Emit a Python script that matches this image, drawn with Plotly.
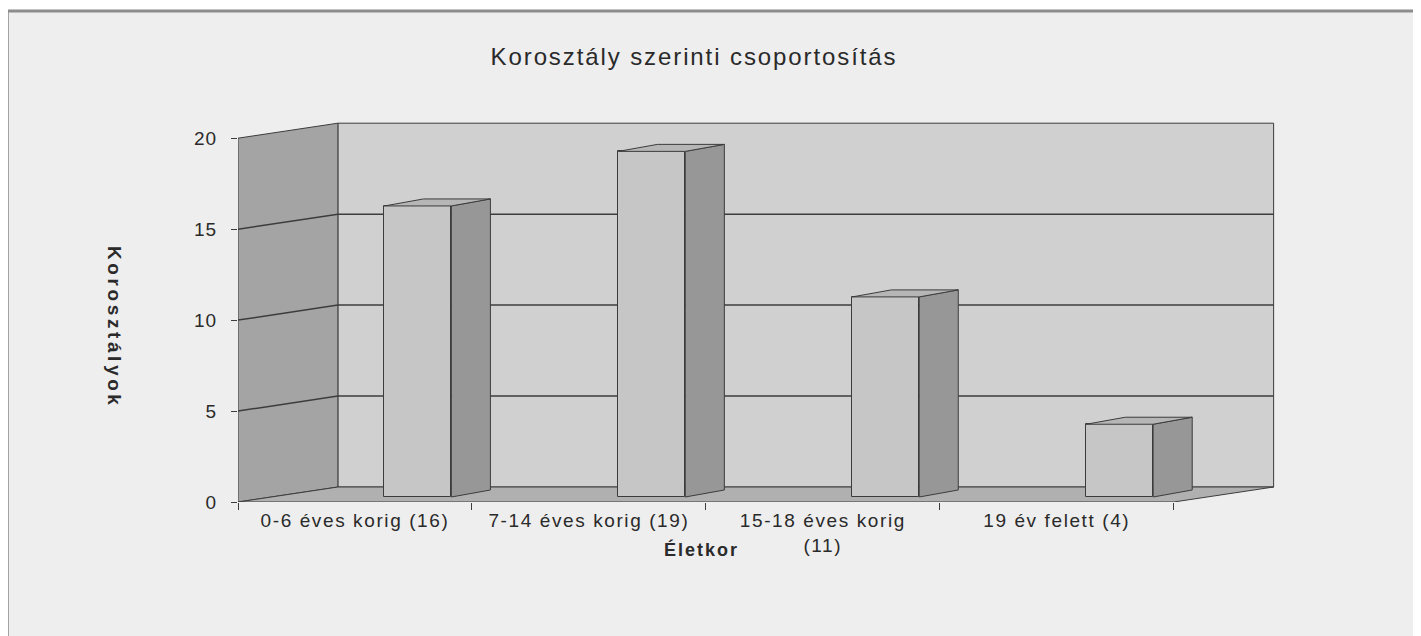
import plotly.graph_objects as go

# data
categories = ["0-6 éves korig (16)", "7-14 éves korig (19)", "15-18 éves korig<br>(11)", "19 év felett (4)"]
counts = [16, 19, 11, 4]
y_ticks = [0, 5, 10, 15, 20]

FONT = "Liberation Sans, Arial, sans-serif"
LINE = "#3c3c3c"
TEXT = "#2a2a2a"

# pseudo-3D geometry (axis units)
WALL_DX, WALL_DY = 0.427, 0.824   # depth of back wall
BAR_OFF, BAR_W, BAR_BASE = 0.269, 0.286, 0.275
BAR_DX, BAR_DY = 0.167, 0.385
Y_MAX = 20
N = len(categories)

centers = [i + 0.5 for i in range(N)]
bar_x = [c + BAR_OFF for c in centers]


def spaced(text, px):
    # the scanned chart uses a wide face; widen Arial with letter spacing
    return "<br>".join(f'<span style="letter-spacing:{px}px">{t}</span>' for t in text.split("<br>"))


fig = go.Figure()


def poly(xs, ys, fill):
    fig.add_trace(go.Scatter(
        x=xs + xs[:1], y=ys + ys[:1],
        mode="lines", fill="toself", fillcolor=fill,
        line=dict(color=LINE, width=1),
        hoverinfo="skip", showlegend=False,
    ))


# walls and floor
shapes = []
def path(pts, fill, width=1):
    d = "M " + " L ".join(f"{x},{y}" for x, y in pts) + " Z"
    shapes.append(dict(type="path", path=d, xref="x", yref="y", layer="below",
                       fillcolor=fill, line=dict(color=LINE, width=width)))

path([(WALL_DX, WALL_DY), (N + WALL_DX, WALL_DY), (N + WALL_DX, Y_MAX + WALL_DY), (WALL_DX, Y_MAX + WALL_DY)], "#d0d0d0")
path([(0, 0), (WALL_DX, WALL_DY), (WALL_DX, Y_MAX + WALL_DY), (0, Y_MAX)], "#a4a4a4")
path([(0, 0), (N, 0), (N + WALL_DX, WALL_DY), (WALL_DX, WALL_DY)], "#b0b0b0")

for v in y_ticks[1:-1]:
    shapes.append(dict(type="line", xref="x", yref="y", layer="below",
                       x0=0, y0=v, x1=WALL_DX, y1=v + WALL_DY, line=dict(color=LINE, width=1.5)))
    shapes.append(dict(type="line", xref="x", yref="y", layer="below",
                       x0=WALL_DX, y0=v + WALL_DY, x1=N + WALL_DX, y1=v + WALL_DY,
                       line=dict(color=LINE, width=1.5)))

# page has an 8px body margin; figure is sized to fit the window
W, H = 1413, 628
ML, MR, MT, MB = 230, 142, 112, 134
pw, ph = W - ML - MR, H - MT - MB
# reference (window) pixels -> paper coords
fx = lambda p: (p - 8 - ML) / pw
fy = lambda p: (H - MB - (p - 8)) / ph

shapes.insert(0, dict(type="rect", xref="paper", yref="paper", layer="below",
                      x0=fx(8), x1=fx(1415), y0=fy(660), y1=fy(11),
                      fillcolor="#eeeeee", line=dict(color="#8a8a8a", width=1.5)))
shapes.append(dict(type="line", xref="paper", yref="paper", layer="below",
                   x0=fx(8), x1=fx(1415), y0=fy(11), y1=fy(11),
                   line=dict(color="#8c8c8c", width=3)))

# bars: front faces
fig.add_trace(go.Bar(
    x=bar_x, y=counts, base=BAR_BASE, width=BAR_W,
    marker=dict(color="#c6c6c6", line=dict(color=LINE, width=1)),
    hoverinfo="skip", showlegend=False,
))

# bars: side and top faces
for bx, v in zip(bar_x, counts):
    xl, xr = bx - BAR_W / 2, bx + BAR_W / 2
    top = BAR_BASE + v
    poly([xr, xr + BAR_DX, xr + BAR_DX, xr],
         [BAR_BASE, BAR_BASE + BAR_DY, top + BAR_DY, top], "#979797")
    poly([xl, xr, xr + BAR_DX, xl + BAR_DX],
         [top, top, top + BAR_DY, top + BAR_DY], "#b6b6b6")

fig.update_layout(
    width=W, height=H,
    margin=dict(l=ML, r=MR, t=MT, b=MB),
    paper_bgcolor="white",
    plot_bgcolor="#eeeeee",
    font=dict(family=FONT, color=TEXT),
    shapes=shapes,
    showlegend=False,
    bargap=0,
    title=dict(text=spaced("Korosztály szerinti csoportosítás", 1.9), x=fx(694), xref="paper",
               xanchor="center", yref="container", y=1 - (57 - 8) / H, yanchor="middle",
               font=dict(size=24, color=TEXT)),
    xaxis=dict(
        range=[0, 4.45], showgrid=False, zeroline=False, showline=False,
        tickmode="array", tickvals=centers, ticktext=[spaced(c, 1.6) for c in categories],
        ticks="", tickfont=dict(size=19), ticklabelstandoff=5,
        minor=dict(tickmode="array", tickvals=list(range(N + 1)), ticks="outside",
                   ticklen=7, tickcolor=LINE, tickwidth=1, showgrid=False),
    ),
    yaxis=dict(
        range=[0, 21], showgrid=False, zeroline=False, showline=False,
        tickmode="array", tickvals=y_ticks, ticktext=[spaced(str(t), 1) for t in y_ticks],
        ticks="outside", ticklen=6, tickcolor=LINE, tickfont=dict(size=19), ticklabelstandoff=10,
    ),
    annotations=[
        dict(text="<b>" + spaced("Életkor", 2) + "</b>", xref="paper", yref="paper",
             x=fx(701), y=fy(549), xanchor="center", yanchor="middle",
             showarrow=False, font=dict(size=18)),
        dict(text="<b>" + spaced("Korosztályok", 3.6) + "</b>", xref="paper", yref="paper",
             x=fx(115), y=fy(327), xanchor="center", yanchor="middle",
             showarrow=False, textangle=90, font=dict(size=19)),
    ],
)

fig.write_html("out.html")
